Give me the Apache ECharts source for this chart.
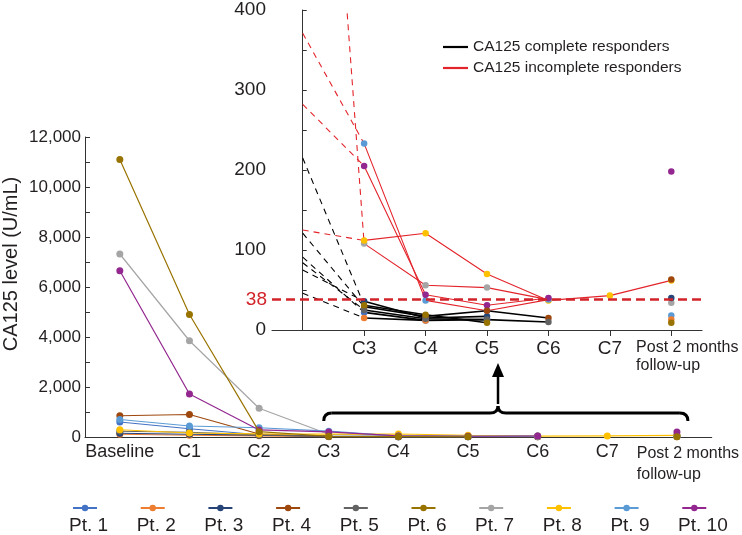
<!DOCTYPE html>
<html>
<head>
<meta charset="utf-8">
<script src="https://cdn.jsdelivr.net/npm/echarts@6/dist/echarts.min.js"></script>
<style>html,body{margin:0;padding:0;background:#fff}#c{width:742px;height:535px}</style>
</head>
<body>
<div id="c"></div>
<script>
// ---- data ----
const categories = ['Baseline', 'C1', 'C2', 'C3', 'C4', 'C5', 'C6', 'C7', 'Post 2 months\nfollow-up'];
const insetCategories = ['C2', 'C3', 'C4', 'C5', 'C6', 'C7', 'Post 2 months\nfollow-up'];
const patients = ['Pt. 1', 'Pt. 2', 'Pt. 3', 'Pt. 4', 'Pt. 5', 'Pt. 6', 'Pt. 7', 'Pt. 8', 'Pt. 9', 'Pt. 10'];
const patientColors = ['#4472C4', '#ED7D31', '#264478', '#9E480E', '#636363', '#997300', '#A5A5A5', '#FFC000', '#5B9BD5', '#93278F'];
//            Baseline  C1    C2    C3   C4   C5    C6    C7    Post
const pt1  = [600,   330,  91,   22,  12,  13,   null, null, null];
const pt2  = [110,   70,   46,   15,  12,  null, null, null, 13];
const pt3  = [150,   110,  75,   36,  15,  17,   null, null, 40];
const pt4  = [850,   900,  121,  29,  17,  24,   15,   null, 63];
const pt5  = [230,   190,  84,   25,  14,  13,   10,   null, null];
const pt6  = [11100, 4900, 215,  31,  19,  9,    null, null, 9];
const pt7  = [7320,  3850, 1150, 108, 56,  53,   38,   null, 34];
const pt8  = [290,   160,  125,  112, 121, 70,   37,   43,   62];
const pt9  = [700,   440,  371,  233, 37,  24,   38,   null, 18];
const pt10 = [6650,  1720, 282,  205, 44,  31,   40,   null, 198];
const patientValues = [pt1, pt2, pt3, pt4, pt5, pt6, pt7, pt8, pt9, pt10];
const completeResponders = ['Pt. 1', 'Pt. 2', 'Pt. 3', 'Pt. 4', 'Pt. 5', 'Pt. 6'];
const groupNames = ['CA125 complete responders', 'CA125 incomplete responders'];
const groupColors = ['#000000', '#E3242B'];
const mainAxisRange = [0, 12000, 2000];
const insetAxisRange = [0, 400, 100];
const threshold = 38;
const yAxisTitle = 'CA125 level (U/mL)';

// ---- chart ----
const FONT = '"Liberation Sans", Arial, Helvetica, sans-serif';
const TXT = '#231F20';
const chart = echarts.init(document.getElementById('c'), null, {renderer: 'canvas'});

function postFormatter(v) {
  if (v.indexOf('Post') === 0) {
    return v.split('\n').map(s => '{p|' + s + '}').join('\n');
  }
  return v;
}

// inset x axis: category k sits at value k (C2 = 0); bands of width 1
const insetTickValues = insetCategories.map((c, k) => k).filter(k => k > 0);
const lastIdx = insetCategories.length - 1;
const postLabelShift = 0.26;
const insetLabelValues = insetTickValues.map(k => k === lastIdx ? k + postLabelShift : k);
function insetLabel(v) {
  const k = Math.round(v - (Math.abs(v - lastIdx - postLabelShift) < 1e-6 ? postLabelShift : 0));
  return postFormatter(insetCategories[k] || '');
}

const series = [];
// main chart series
patientValues.forEach((vals, i) => {
  series.push({
    name: patients[i], type: 'line', xAxisIndex: 0, yAxisIndex: 0,
    data: vals, symbol: 'circle', symbolSize: 7, showSymbol: true,
    connectNulls: false, z: patients[i] === 'Pt. 6' ? 4 : 3,
    itemStyle: {color: patientColors[i]},
    lineStyle: {color: patientColors[i], width: 1.2},
    emphasis: {disabled: true}
  });
});
// inset dashed C2 -> C3 segments
patientValues.forEach((vals, i) => {
  const g = completeResponders.includes(patients[i]) ? 0 : 1;
  const d = [[0, vals[2]], [1, vals[3]]];
  series.push({
    name: patients[i], type: 'line', xAxisIndex: 1, yAxisIndex: 1,
    data: d, symbol: 'none', showSymbol: false, z: 2, clip: true,
    lineStyle: {color: groupColors[g], width: 1.1, type: [6, 5]},
    emphasis: {disabled: true}
  });
});
// inset solid lines C3 onward (incomplete first, complete on top)
const order = [6, 7, 8, 9, 0, 1, 2, 3, 4, 5];
order.forEach(i => {
  const vals = patientValues[i];
  const g = completeResponders.includes(patients[i]) ? 0 : 1;
  const d = insetCategories.map((c, k) => [k, k === 0 ? null : vals[k + 2]]);
  series.push({
    name: patients[i], type: 'line', xAxisIndex: 1, yAxisIndex: 1,
    data: d, symbol: 'circle', symbolSize: 6.5, showSymbol: true, z: 3,
    connectNulls: false, clip: true,
    itemStyle: {color: patientColors[i]},
    lineStyle: {color: groupColors[g], width: g === 0 ? 1.6 : 1.1},
    emphasis: {disabled: true}
  });
});
// group legend entries + threshold line
groupNames.forEach((n, g) => {
  const s = {
    name: n, type: 'line', xAxisIndex: 1, yAxisIndex: 1, data: [],
    symbol: 'none', itemStyle: {color: groupColors[g]},
    lineStyle: {color: groupColors[g], width: 2}
  };
  if (g === 1) {
    s.markLine = {
      silent: true, symbol: 'none',
      lineStyle: {color: '#D2232A', width: 2.6, type: [9, 5]},
      label: {show: true, position: 'start', formatter: String(threshold), color: '#D2232A', fontSize: 19, fontFamily: FONT, distance: 5},
      data: [{yAxis: threshold}]
    };
  }
  series.push(s);
});

const option = {
  animation: false,
  backgroundColor: '#fff',
  textStyle: {fontFamily: FONT, color: TXT},
  grid: [
    {left: 85, right: 29, top: 137, height: 300},
    {left: 272, right: 40, top: 10, height: 320}
  ],
  xAxis: [
    {
      type: 'category', gridIndex: 0, data: categories, boundaryGap: true,
      axisLine: {lineStyle: {color: '#333', width: 1}},
      axisTick: {show: false},
      axisLabel: {
        color: TXT, fontSize: 18, fontFamily: FONT, margin: 6, interval: 0,
        showMaxLabel: true, hideOverlap: false,
        formatter: postFormatter,
        rich: {p: {fontSize: 16, lineHeight: 21, fontFamily: FONT, color: TXT, align: 'left', padding: [0, 0, 0, 22]}}
      }
    },
    {
      type: 'value', gridIndex: 1, min: -0.5, max: lastIdx + 0.5,
      splitLine: {show: false},
      axisLine: {onZero: false, lineStyle: {color: '#333', width: 1}},
      axisTick: {show: true, length: 6, inside: false, customValues: insetTickValues, lineStyle: {color: '#333'}},
      axisLabel: {
        color: TXT, fontSize: 19, fontFamily: FONT, margin: 9,
        customValues: insetLabelValues, hideOverlap: false,
        formatter: insetLabel,
        rich: {p: {fontSize: 16, lineHeight: 18, fontFamily: FONT, color: TXT, align: 'left'}}
      }
    }
  ],
  yAxis: [
    {
      type: 'value', gridIndex: 0, min: mainAxisRange[0], max: mainAxisRange[1], interval: mainAxisRange[2],
      axisLine: {show: true, lineStyle: {color: '#333', width: 1}},
      axisTick: {show: true, inside: true, length: 5, lineStyle: {color: '#333'}},
      minorTick: {show: true, splitNumber: 2, length: 5, lineStyle: {color: '#333'}},
      splitLine: {show: false},
      axisLabel: {color: TXT, fontSize: 17, fontFamily: FONT, margin: 4}
    },
    {
      type: 'value', gridIndex: 1, min: insetAxisRange[0], max: insetAxisRange[1], interval: insetAxisRange[2],
      axisLine: {show: true, lineStyle: {color: '#333', width: 1}},
      axisTick: {show: true, inside: true, length: 4, lineStyle: {color: '#333'}},
      minorTick: {show: true, splitNumber: 2, length: 4, lineStyle: {color: '#333'}},
      splitLine: {show: false},
      axisLabel: {color: TXT, fontSize: 19, fontFamily: FONT, margin: 6}
    }
  ],
  legend: [
    {
      id: 'icons', data: patients, left: 72, top: 504, padding: 0,
      itemWidth: 24, itemHeight: 8, itemGap: 41.7,
      formatter: () => '', textStyle: {fontSize: 1}
    },
    {
      id: 'labels', data: patients, left: 63, top: 516, padding: 0,
      itemWidth: 1, itemHeight: 1, itemGap: 22.6, icon: 'rect',
      itemStyle: {opacity: 0}, lineStyle: {opacity: 0},
      textStyle: {fontSize: 19, color: TXT, fontFamily: FONT}
    },
    {
      id: 'groups', data: groupNames, orient: 'vertical', left: 443, top: 39, padding: 0,
      itemWidth: 25, itemHeight: 2.2, itemGap: 5, icon: 'rect',
      textStyle: {fontSize: 15.5, lineHeight: 16, color: TXT, fontFamily: FONT}
    }
  ],
  series: series
};
chart.setOption(option);

// annotations anchored on the main axis
const xC3 = chart.convertToPixel({gridIndex: 0}, [3, 0])[0];
const xC5 = chart.convertToPixel({gridIndex: 0}, [5, 0])[0];
const xPost = chart.convertToPixel({gridIndex: 0}, [8, 0])[0];
const L = xC3 - 5, R = xPost + 11, M = xC5 + 30, yb = 413;
const braceStyle = {stroke: '#000', lineWidth: 3, fill: 'none'};
chart.setOption({
  graphic: [
    {type: 'text', x: 11, y: 264, rotation: Math.PI / 2,
      style: {text: yAxisTitle, fontSize: 20, fontFamily: FONT, fill: TXT, align: 'center', verticalAlign: 'middle'}},
    {type: 'bezierCurve', shape: {x1: L, y1: yb + 8, cpx1: L, cpy1: yb, x2: L + 8, y2: yb}, style: braceStyle},
    {type: 'line', shape: {x1: L + 8, y1: yb, x2: M - 8, y2: yb}, style: braceStyle},
    {type: 'bezierCurve', shape: {x1: M - 8, y1: yb, cpx1: M, cpy1: yb, x2: M, y2: yb - 7}, style: braceStyle},
    {type: 'bezierCurve', shape: {x1: M, y1: yb - 7, cpx1: M, cpy1: yb, x2: M + 8, y2: yb}, style: braceStyle},
    {type: 'line', shape: {x1: M + 8, y1: yb, x2: R - 8, y2: yb}, style: braceStyle},
    {type: 'bezierCurve', shape: {x1: R - 8, y1: yb, cpx1: R, cpy1: yb, x2: R, y2: yb + 8}, style: braceStyle},
    {type: 'line', shape: {x1: M, y1: yb - 9, x2: M, y2: 376}, style: {stroke: '#000', lineWidth: 2.5}},
    {type: 'polygon', shape: {points: [[M - 6, 377], [M + 6, 377], [M, 363]]}, style: {fill: '#000'}}
  ]
});
</script>
</body>
</html>
